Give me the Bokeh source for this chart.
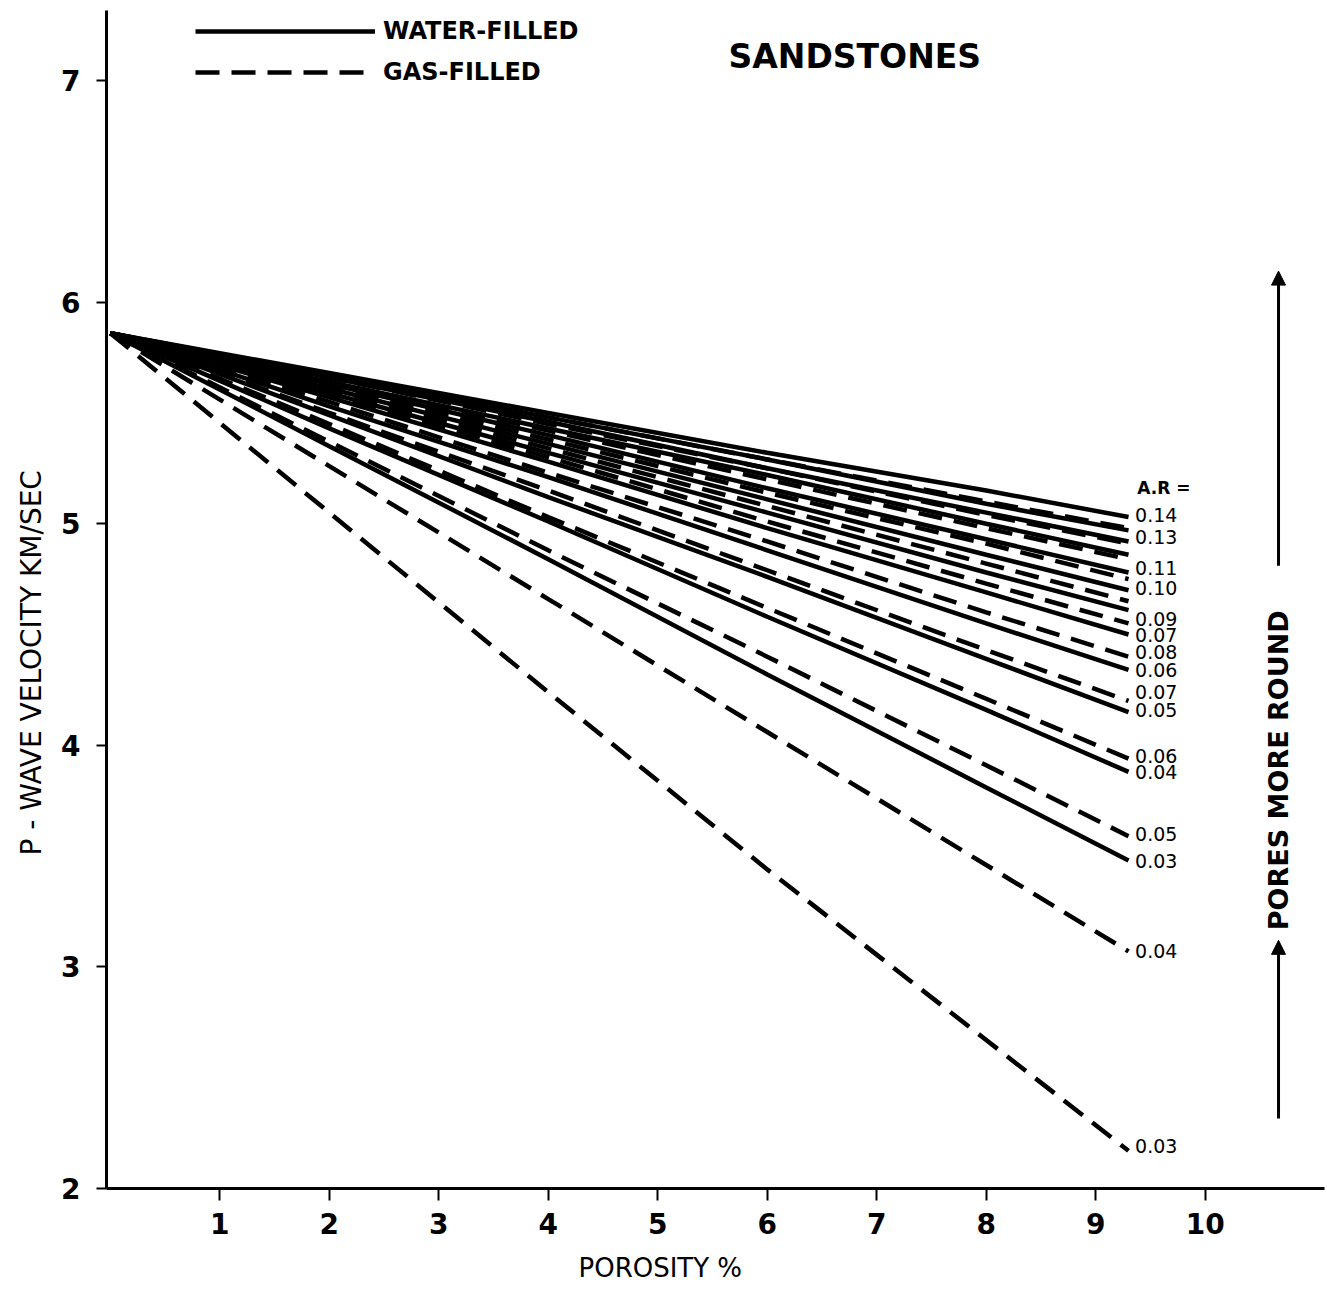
from bokeh.plotting import figure
from bokeh.models import Range1d, Label, Arrow, NormalHead, Legend, LegendItem, FixedTicker, Title
from bokeh.embed import file_html
from bokeh.resources import INLINE

# ---------------- data ----------------
porosity = [0, 2, 4, 6, 8, 9.3]

water_ar = [0.14, 0.13, 0.12, 0.11, 0.10, 0.09, 0.08, 0.07, 0.06, 0.05, 0.04, 0.03]
water_v = [
    [5.86, 5.68, 5.50, 5.32, 5.15, 5.03],
    [5.86, 5.67, 5.48, 5.29, 5.09, 4.97],
    [5.86, 5.66, 5.46, 5.25, 5.05, 4.92],
    [5.86, 5.64, 5.43, 5.22, 5.00, 4.86],
    [5.86, 5.63, 5.40, 5.16, 4.93, 4.78],
    [5.86, 5.61, 5.36, 5.11, 4.86, 4.70],
    [5.86, 5.59, 5.32, 5.05, 4.78, 4.61],
    [5.86, 5.57, 5.28, 4.98, 4.69, 4.50],
    [5.86, 5.53, 5.21, 4.88, 4.55, 4.34],
    [5.86, 5.49, 5.12, 4.76, 4.39, 4.15],
    [5.86, 5.43, 5.01, 4.58, 4.16, 3.88],
    [5.86, 5.35, 4.84, 4.32, 3.81, 3.48],
]

gas_ar = [0.14, 0.13, 0.12, 0.11, 0.10, 0.09, 0.08, 0.07, 0.06, 0.05, 0.04, 0.03]
gas_v = [
    [5.86, 5.67, 5.48, 5.29, 5.10, 4.98],
    [5.86, 5.66, 5.45, 5.25, 5.04, 4.91],
    [5.86, 5.64, 5.42, 5.20, 4.98, 4.84],
    [5.86, 5.62, 5.38, 5.14, 4.91, 4.75],
    [5.86, 5.60, 5.34, 5.08, 4.82, 4.65],
    [5.86, 5.58, 5.30, 5.01, 4.73, 4.55],
    [5.86, 5.55, 5.23, 4.92, 4.60, 4.40],
    [5.86, 5.50, 5.15, 4.79, 4.43, 4.20],
    [5.86, 5.45, 5.03, 4.62, 4.21, 3.94],
    [5.86, 5.37, 4.88, 4.40, 3.91, 3.59],
    [5.86, 5.26, 4.66, 4.06, 3.46, 3.07],
    [5.86, 5.05, 4.24, 3.44, 2.67, 2.17],
]

end_label_text = ["0.14", "0.13", "0.11", "0.10", "0.09", "0.07", "0.08", "0.06",
                  "0.07", "0.05", "0.06", "0.04", "0.05", "0.03", "0.04", "0.03"]
end_label_v = [5.04, 4.94, 4.80, 4.71, 4.57, 4.50, 4.42, 4.34,
               4.24, 4.16, 3.95, 3.88, 3.60, 3.48, 3.07, 2.19]

x_ticks = [1, 2, 3, 4, 5, 6, 7, 8, 9, 10]
y_ticks = [2, 3, 4, 5, 6, 7]

# ---------------- figure ----------------
FONT = "DejaVu Sans"
p = figure(width=1327, height=1298, output_backend="svg", toolbar_location=None,
           x_range=Range1d(-0.035, 11.09), y_range=Range1d(2, 7.316),
           min_border_left=106, min_border_right=3, min_border_top=10, min_border_bottom=110)
p.background_fill_color = "white"
p.border_fill_color = "white"
p.outline_line_color = None
p.grid.visible = False

for ax in (p.xaxis[0], p.yaxis[0]):
    ax.axis_line_width = 3
    ax.axis_line_color = "black"
    ax.major_tick_line_width = 2
    ax.major_tick_in = 0
    ax.minor_tick_line_color = None
    ax.major_label_text_font = FONT
    ax.major_label_text_font_style = "bold"
    ax.major_label_text_font_size = "28px"
    ax.major_label_text_color = "black"

p.xaxis.ticker = FixedTicker(ticks=x_ticks)
p.yaxis.ticker = FixedTicker(ticks=y_ticks)
p.xaxis.major_tick_out = 12
p.xaxis.major_label_standoff = 12
p.yaxis.major_tick_out = 10
p.yaxis.major_label_standoff = 16

water_r = []
for vs in water_v:
    water_r.append(p.line(porosity, vs, line_color="black", line_width=4.5))
gas_r = []
for vs in gas_v:
    gas_r.append(p.line(porosity, vs, line_color="black", line_width=4.5, line_dash="24 12"))

# end labels
for t, v in zip(end_label_text, end_label_v):
    p.add_layout(Label(x=9.36, y=v, text=t, text_align="left", text_baseline="middle",
                       text_font=FONT, text_font_size="19px", text_color="black"))

p.add_layout(Label(x=9.38, y=5.163, text="A.R =", text_align="left", text_baseline="middle",
                   text_font=FONT, text_font_size="17px", text_font_style="bold", text_color="black"))

p.add_layout(Label(x=6.80, y=7.11, text="SANDSTONES", text_align="center", text_baseline="middle",
                   text_font=FONT, text_font_size="33px", text_font_style="bold", text_color="black"))

# right side annotation
p.add_layout(Label(x=10.67, y=3.93, text="PORES  MORE  ROUND", angle=1.5708,
                   text_align="center", text_baseline="middle",
                   text_font=FONT, text_font_size="27px", text_font_style="bold", text_color="black"))
p.add_layout(Arrow(end=NormalHead(size=14, fill_color="black", line_color="black"),
                   x_start=10.67, y_start=2.316, x_end=10.67, y_end=3.12, line_width=3))
p.add_layout(Arrow(end=NormalHead(size=14, fill_color="black", line_color="black"),
                   x_start=10.67, y_start=4.81, x_end=10.67, y_end=6.14, line_width=3))

# axis titles
p.add_layout(Title(text="P - WAVE  VELOCITY  KM/SEC", align="left", offset=333,
                   vertical_align="middle", standoff=20,
                   text_font=FONT, text_font_size="28px", text_font_style="normal",
                   text_color="black"), "left")
p.add_layout(Title(text="POROSITY  %", align="left", offset=472,
                   vertical_align="bottom", standoff=29,
                   text_font=FONT, text_font_size="26px", text_font_style="normal",
                   text_color="black"), "below")

legend = Legend(items=[LegendItem(label="WATER-FILLED", renderers=[water_r[0]]),
                       LegendItem(label="GAS-FILLED", renderers=[gas_r[0]])],
                location=(89, 1102), glyph_width=180, glyph_height=20, label_height=20,
                spacing=13, padding=0, margin=0, label_standoff=8,
                label_text_font=FONT, label_text_font_size="24px", label_text_font_style="bold",
                label_text_color="black",
                border_line_color=None, background_fill_alpha=0)
p.add_layout(legend)

open("out.html", "w").write(file_html(p, INLINE))
